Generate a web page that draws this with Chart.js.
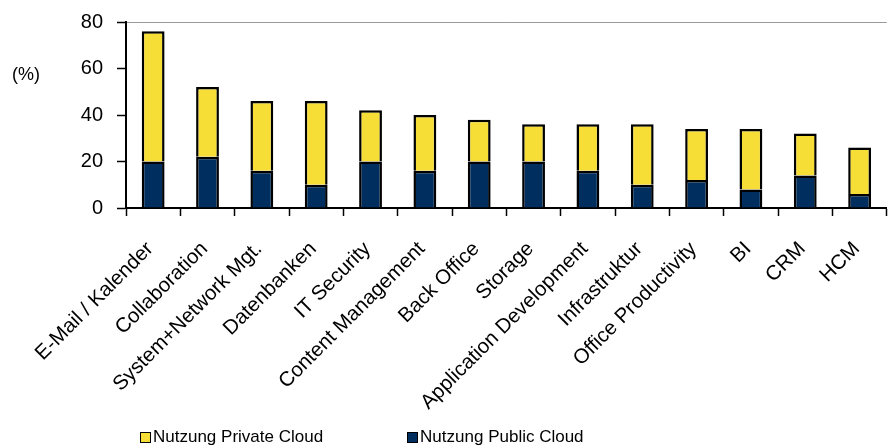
<!DOCTYPE html>
<html>
<head>
<meta charset="utf-8">
<script src="https://cdn.jsdelivr.net/npm/chart.js@4"></script>
<style>
  html, body { margin: 0; padding: 0; background: #fff; overflow: hidden; width: 890px; height: 448px; }
  #wrap { position: absolute; left: 0; top: 0; width: 898px; height: 448px; }
  .lbl { position: absolute; font-family: "Liberation Sans", Arial, sans-serif; color: #000; white-space: nowrap; }
  #unit { left: 12px; top: 64px; font-size: 18px; }
  #legend { left: 140px; top: 427px; font-size: 17px; display: flex; }
  .item { display: flex; align-items: center; }
  .box { width: 9px; height: 9px; border: 1.5px solid #000; margin-right: 2px; }
</style>
</head>
<body>
<div id="wrap"><canvas id="c"></canvas></div>
<div id="unit" class="lbl">(%)</div>
<div id="legend" class="lbl"></div>
<script>
const categories = ["E-Mail / Kalender", "Collaboration", "System+Network Mgt.", "Datenbanken", "IT Security",
  "Content Management", "Back Office", "Storage", "Application Development", "Infrastruktur",
  "Office Productivity", "BI", "CRM", "HCM"];
const publicCloud = [20, 22, 16, 10, 20, 16, 20, 20, 16, 10, 12, 8, 14, 6];
const privateCloud = [56, 30, 30, 36, 22, 24, 18, 16, 20, 26, 22, 26, 18, 20];
const yTicks = [0, 20, 40, 60, 80];

const YELLOW = "#F7DE36";
const NAVY = "#002F5F";
const FONT = "'Liberation Sans', Arial, sans-serif";

// legend (private first, like the original)
const legendItems = [["Nutzung Private Cloud", YELLOW], ["Nutzung Public Cloud", NAVY]];
const lg = document.getElementById("legend");
legendItems.forEach(([name, col], i) => {
  const it = document.createElement("div");
  it.className = "item";
  if (i > 0) it.style.marginLeft = "84px";
  const b = document.createElement("div");
  b.className = "box";
  b.style.background = col;
  const t = document.createElement("span");
  t.textContent = name;
  it.appendChild(b); it.appendChild(t);
  lg.appendChild(it);
});

function ds(label, data, color) {
  return { label, data, backgroundColor: color, borderColor: "#000", borderWidth: 2.5,
    categoryPercentage: 1, barPercentage: 0.42 };
}

new Chart(document.getElementById("c"), {
  type: "bar",
  data: {
    labels: categories,
    datasets: [ds("Nutzung Public Cloud", publicCloud, NAVY), ds("Nutzung Private Cloud", privateCloud, YELLOW)]
  },
  options: {
    responsive: true,
    maintainAspectRatio: false,
    animation: false,
    layout: { padding: { top: 22, right: 0, left: 0, bottom: 0 } },
    plugins: { legend: { display: false }, tooltip: { enabled: false } },
    scales: {
      x: {
        stacked: true,
        afterFit: (s) => { s.height = 240; },
        border: { color: "#000", width: 2 },
        grid: { offset: true, drawOnChartArea: false, tickColor: "#000", tickLength: 8, tickWidth: 1.5 },
        ticks: { color: "#000", font: { family: FONT, size: 20.5 }, maxRotation: 45, minRotation: 45,
          autoSkip: false, padding: 21, labelOffset: -3 }
      },
      y: {
        stacked: true,
        min: 0, max: 80,
        afterFit: (s) => { s.width = 126; s.paddingTop = 0; s.paddingBottom = 0; },
        afterBuildTicks: (s) => { s.ticks = yTicks.map(v => ({ value: v })); },
        border: { color: "#000", width: 2 },
        grid: {
          color: (c) => c.tick && c.tick.value === 80 ? "#999" : "rgba(0,0,0,0)",
          tickColor: "#000", tickLength: 9, tickWidth: 1.5
        },
        ticks: { color: "#000", font: { family: FONT, size: 20 }, padding: 14 }
      }
    }
  }
});
</script>
</body>
</html>
